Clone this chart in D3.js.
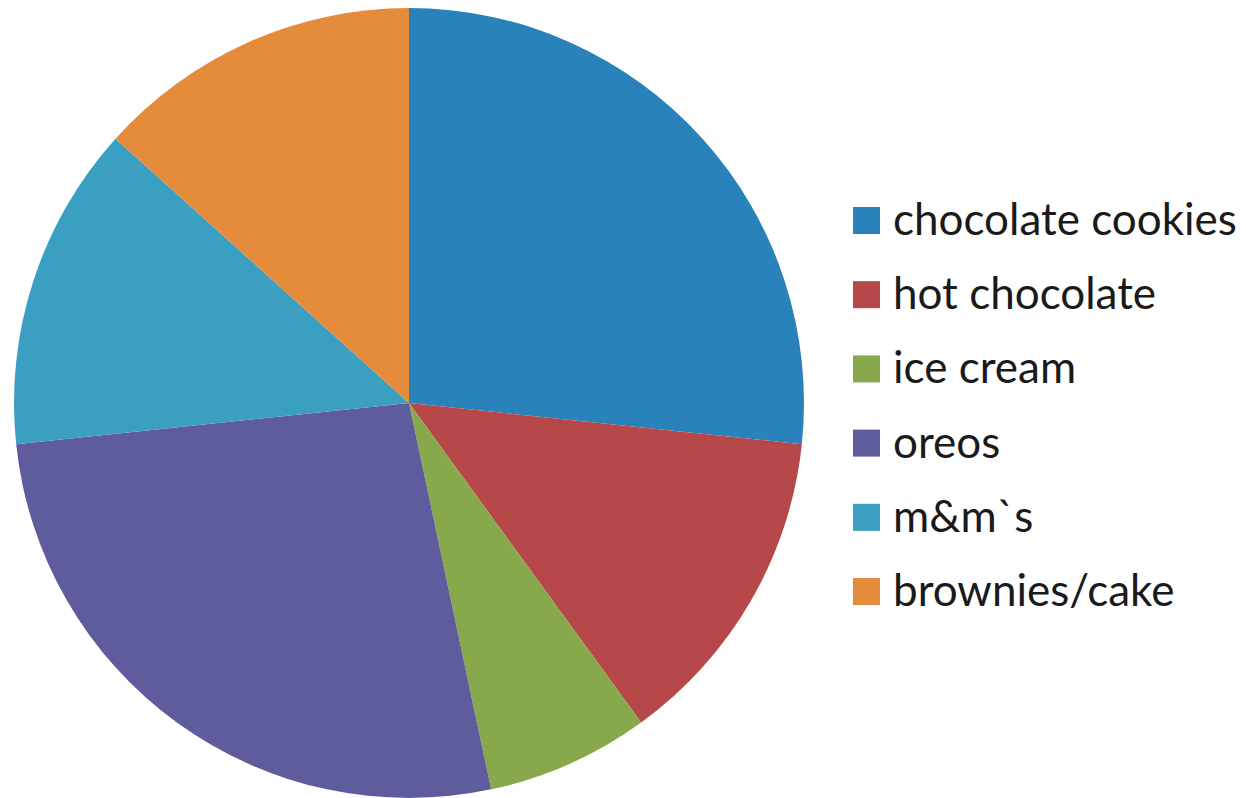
<!DOCTYPE html>
<html><head><meta charset="utf-8">
<script src="https://cdn.jsdelivr.net/npm/d3@7"></script>
<style>html,body{margin:0;padding:0;background:#fff;}</style>
</head><body>
<svg id="c" width="1246" height="798"></svg>
<script>
const categories = ["chocolate cookies","hot chocolate","ice cream","oreos","m&m`s","brownies/cake"];
const values = [4,2,1,4,2,2];
const colors = ["#2a82bb","#b7484a","#87a94b","#5f5c9e","#3b9fc1","#e48b3c"];

const svg = d3.select("#c");
const cx = 409, cy = 403, r = 395;
const pie = d3.pie().sort(null).value(d => d.v);
const arc = d3.arc().innerRadius(0).outerRadius(r);
const data = categories.map((c,i)=>({c, v: values[i], col: colors[i]}));
const g = svg.append("g").attr("transform",`translate(${cx},${cy})`);
g.selectAll("path").data(pie(data)).join("path")
  .attr("d", arc).attr("fill", d => d.data.col);

const leg = svg.append("g").attr("transform","translate(853,0)");
const y = d3.scalePoint().domain(categories).range([221,592]);
const items = leg.selectAll("g").data(data).join("g")
  .attr("transform", d => `translate(0,${y(d.c)})`);
items.append("rect").attr("x",0).attr("y",-14).attr("width",27).attr("height",27).attr("fill", d=>d.col);
items.append("text").attr("x",40).attr("y",14)
  .style("font-family","Lato, sans-serif").style("font-size","44px").attr("fill","#1a1a1a")
  .text(d=>d.c);
</script>
</body></html>
